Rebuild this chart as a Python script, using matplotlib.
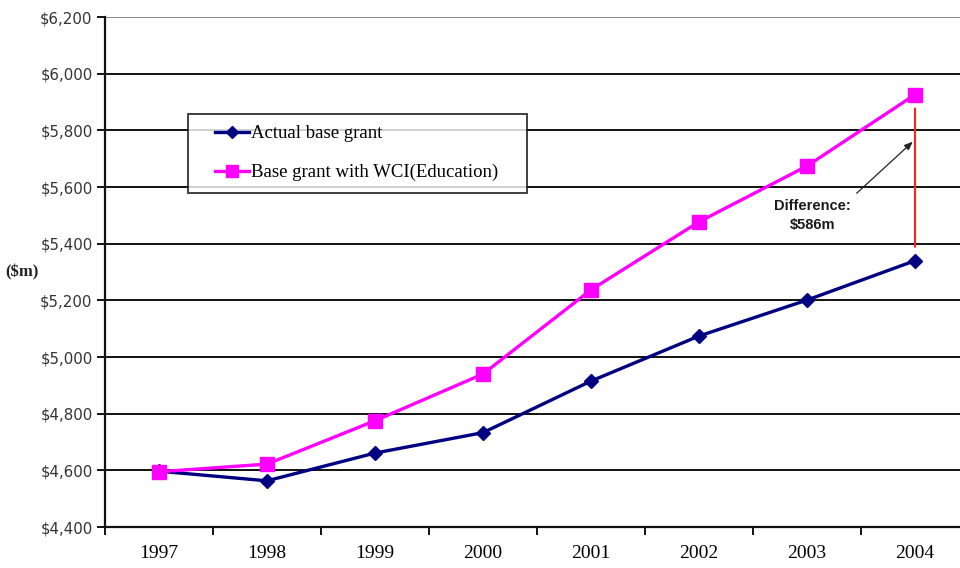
import matplotlib
matplotlib.use("Agg")
import matplotlib.pyplot as plt
from matplotlib.ticker import FuncFormatter
from matplotlib.legend_handler import HandlerLine2D

years = ["1997", "1998", "1999", "2000", "2001", "2002", "2003", "2004"]
actual_base_grant = [4597, 4563, 4661, 4733, 4915, 5074, 5201, 5340]
wci_base_grant = [4595, 4622, 4775, 4940, 5237, 5477, 5674, 5926]
difference_label = "Difference:\n$586m"
y_ticks = [4400, 4600, 4800, 5000, 5200, 5400, 5600, 5800, 6000, 6200]

fig = plt.figure(figsize=(9.6, 5.68), dpi=100)
ax = fig.add_axes([105 / 960, 41 / 568, 864 / 960, 510 / 568])

x = list(range(len(years)))

ax.set_xlim(-0.5, len(years) - 0.5)
ax.set_ylim(4400, 6200)
ax.set_yticks(y_ticks)
ax.yaxis.set_major_formatter(FuncFormatter(lambda v, p: "${:,.0f}".format(v)))

# horizontal gridlines
for v in y_ticks[1:]:
    ax.axhline(v, color="#111111" if v < 6200 else "#888888", lw=1.4, zorder=1)

line_actual, = ax.plot(x, actual_base_grant, color="#000080", lw=2.4, marker="D", ms=7,
                       markerfacecolor="#000080", markeredgecolor="#000080",
                       label="Actual base grant", zorder=3)
line_wci, = ax.plot(x, wci_base_grant, color="#FF00FF", lw=2.4, marker="s", ms=10,
                    markerfacecolor="#FF00FF", markeredgecolor="#FF00FF",
                    label="Base grant with WCI(Education)", zorder=3)

# difference bar in the final year
last = len(years) - 1
ax.annotate("", xy=(last, actual_base_grant[-1]), xytext=(last, wci_base_grant[-1]),
            arrowprops=dict(arrowstyle="-", color="#FF2020", lw=1.5,
                            shrinkA=10, shrinkB=10), zorder=2)

# callout text and its pointer
ax.text(last - 0.95, 5500, difference_label, ha="center", va="center",
        fontsize=10.5, family="Liberation Sans", fontweight="bold",
        color="#1a1a1a", linespacing=1.45)
ax.annotate("", xy=(last - 0.02, 5760), xytext=(last - 0.54, 5578),
            arrowprops=dict(arrowstyle="-|>,head_length=0.5,head_width=0.2",
                            color="#222222", lw=0.9, shrinkA=0, shrinkB=0))

ax.set_xticks([i - 0.5 for i in range(len(years) + 1)], minor=False)
ax.set_xticklabels([])
ax.set_xticks(x, minor=True)
ax.set_xticklabels(years, minor=True, family="Liberation Serif", fontsize=14)
ax.tick_params(axis="x", which="major", direction="out", length=6, width=1.4, color="#111111")
ax.tick_params(axis="x", which="minor", length=0, pad=13)
ax.tick_params(axis="y", direction="out", length=6, width=1.4, color="#111111",
               labelsize=10.8, labelcolor="#333333", pad=3)

for s in ["top", "right"]:
    ax.spines[s].set_visible(False)
for s in ["left", "bottom"]:
    ax.spines[s].set_linewidth(1.6)
    ax.spines[s].set_color("#111111")

fig.text(22 / 960, 1 - 272 / 568, "($m)", family="Liberation Serif", fontsize=12,
         fontweight="bold", color="#222222", ha="center", va="center")

leg_fs = 13.5
leg = ax.legend(handles=[line_actual, line_wci], loc="upper left",
                bbox_to_anchor=(83 / 864, 1 - 97 / 510, 339 / 864, 0),
                mode="expand",
                prop={"family": "Liberation Serif", "size": leg_fs},
                frameon=True, fancybox=False, edgecolor="#111111",
                handlelength=2.65, handletextpad=0.12, labelspacing=1.15,
                borderpad=0.6, borderaxespad=0, markerscale=0.85,
                handler_map={line_actual: HandlerLine2D(xpad=0.85),
                             line_wci: HandlerLine2D(xpad=0.85)})
leg.get_frame().set_linewidth(1.4)
leg.set_zorder(5)

fig.savefig("out.png", dpi=100, facecolor="white")
